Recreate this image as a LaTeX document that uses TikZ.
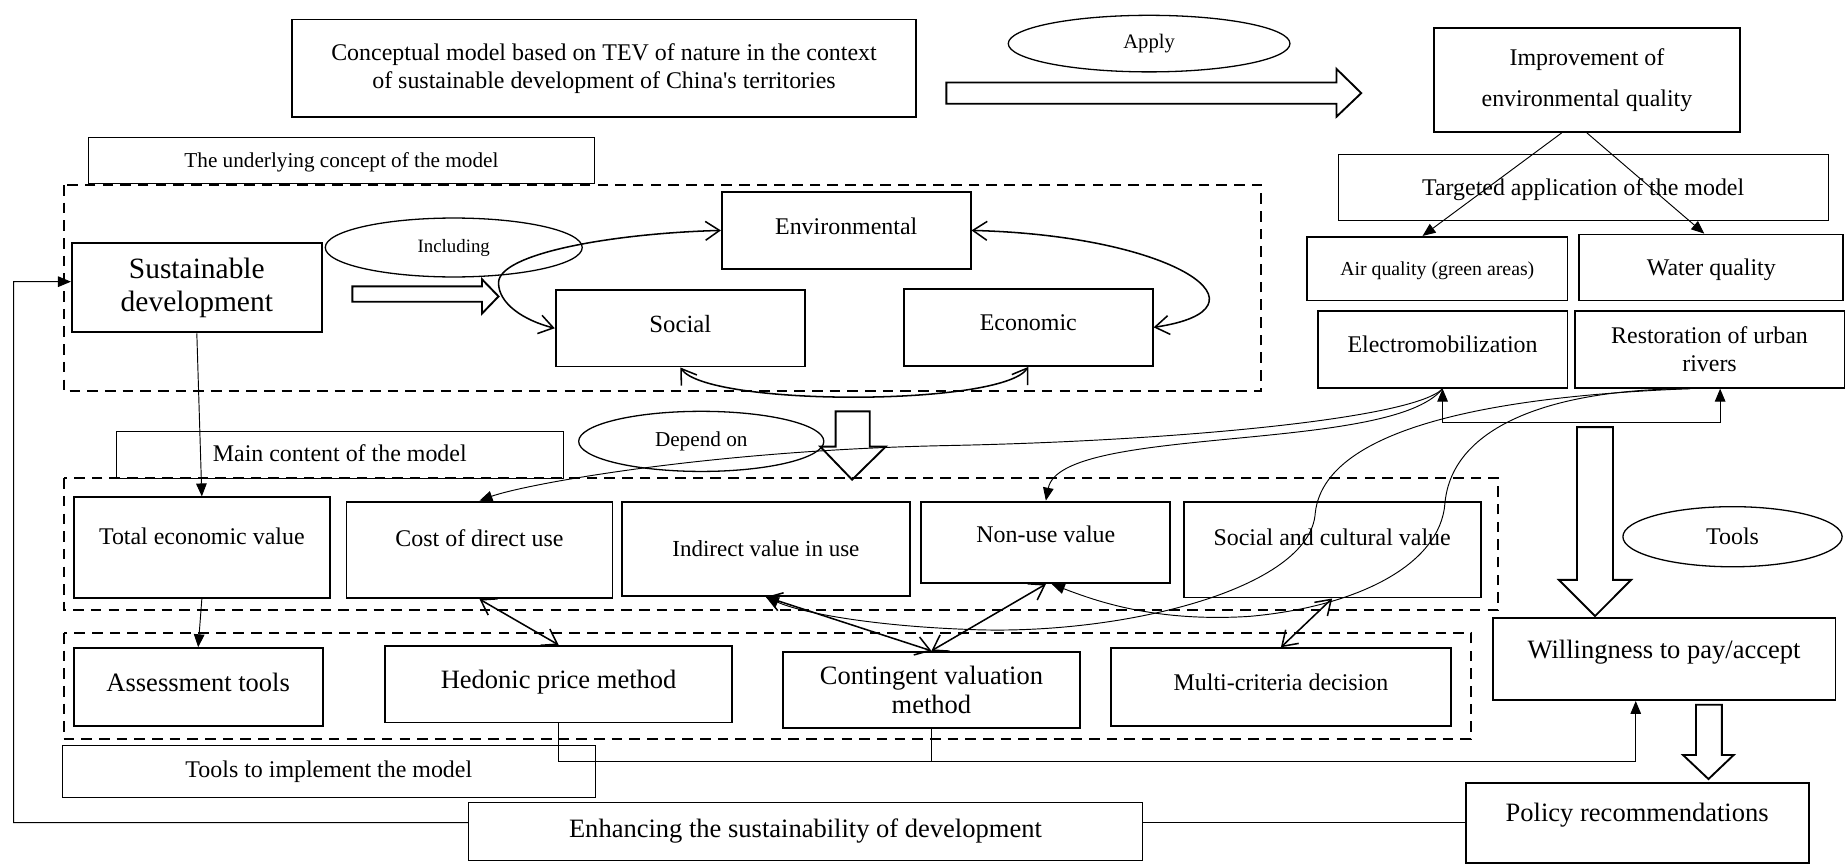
\documentclass[tikz,border=0pt]{standalone}
\usepackage{fontspec}
\setmainfont{Liberation Serif}
\usetikzlibrary{arrows.meta,shapes.geometric}
\newcommand\fntmain{\fontsize{20.3bp}{24bp}\selectfont}
\newcommand\fntbig{\fontsize{22.5bp}{25bp}\selectfont}
\newcommand\fntlbl{\fontsize{18bp}{21bp}\selectfont}
\newcommand\fntsm{\fontsize{16bp}{19bp}\selectfont}
\begin{document}
\begin{tikzpicture}[x=1bp,y=-1bp,
  box/.style={draw,line width=1.6bp,inner sep=0pt,font=\fntmain,text height=14.2bp,text depth=2bp},
  bigbox/.style={box,font=\fntbig,text height=15.8bp,text depth=2.3bp},
  lblbox/.style={box,line width=0.8bp},
  twoline/.style={align=center,text height=,text depth=},
  oval/.style={draw,ellipse,line width=1.1bp,inner sep=0pt},
  dashframe/.style={draw,line width=1.6bp,dash pattern=on 9bp off 6bp},
  hollow/.style={draw,line width=1.6bp,line join=miter},
  conn/.style={line width=0.8bp},
  fwd/.style={conn,-{Triangle[length=11bp,width=9bp]}},
  barb/.style={line width=1.3bp,{Straight Barb[length=12bp,width=16bp]}-{Straight Barb[length=12bp,width=16bp]}}]
\useasboundingbox (0,0) rectangle (1568,733);

% top row
\node[box,twoline,minimum width=529bp,minimum height=83bp] (title) at (512.5,58) {Conceptual model based on TEV of nature in the context\\of sustainable development of China\textquotesingle s territories};
\node[oval,font={\fontsize{17.5bp}{20bp}\selectfont},minimum width=239bp,minimum height=48bp] (apply) at (975,37) {Apply};
\node[box,twoline,font={\fontsize{20.3bp}{34bp}\selectfont},minimum width=259bp,minimum height=88bp] (imp) at (1346.5,68) {Improvement of\\environmental quality};
\draw[hollow] (803,70) -- (1134,70) -- (1134,58.5) -- (1155,79) -- (1134,99) -- (1134,88) -- (803,88) -- cycle;

% right column
\node[lblbox,minimum width=415.5bp,minimum height=56bp,text depth=1bp] (target) at (1343.25,159) {Targeted application of the model};
\node[box,font={\fontsize{16.8bp}{20bp}\selectfont},text height=11.8bp,text depth=0bp,minimum width=221bp,minimum height=54bp] (air) at (1219.5,228) {Air quality (green areas)};
\node[box,text depth=0bp,minimum width=224bp,minimum height=56bp] (water) at (1452,227) {Water quality};
\node[box,text depth=9bp,minimum width=212bp,minimum height=65bp] (elm) at (1224,296.5) {Electromobilization};
\node[box,twoline,minimum width=229bp,minimum height=65bp] (rst) at (1450.5,296.5) {Restoration of urban\\rivers};
\draw[fwd] ([xshift=-21.5bp]imp.south) -- ([xshift=-12.5bp]air.north);
\draw[fwd] (imp.south) -- ([xshift=-6bp]water.north);

% underlying concept
\node[lblbox,font=\fntlbl,text height=12.6bp,text depth=1.8bp,minimum width=430bp,minimum height=39bp] (under) at (289.7,136.5) {The underlying concept of the model};
\draw[dashframe] (54,157) rectangle (1070,332);
\node[box,twoline,font={\fontsize{25bp}{28bp}\selectfont},minimum width=212bp,minimum height=76bp] (sd) at (167,244) {Sustainable\\development};
\node[oval,font=\fntsm,minimum width=218bp,minimum height=50bp] (incl) at (385,210) {Including};
\draw[hollow] (299,243) -- (409,243) -- (409,237) -- (423,251.5) -- (409,266) -- (409,256) -- (299,256) -- cycle;
\node[box,font={\fontsize{21bp}{24bp}\selectfont},text height=14.7bp,text depth=7bp,minimum width=211.5bp,minimum height=65bp] (soc) at (577.25,278.5) {Social};
\node[box,text depth=7bp,minimum width=211bp,minimum height=65bp] (env) at (718,195.5) {Environmental};
\node[box,text depth=9.5bp,minimum width=211bp,minimum height=65.5bp] (eco) at (872.5,277.75) {Economic};
\draw[barb] (soc.west) .. controls (445,272) and (423,258) .. (423,240) .. controls (423,215) and (520,198) .. (env.west);
\draw[barb] (env.east) .. controls (1000,200) and (1085,262) .. (eco.east);
\draw[barb] (soc.south) .. controls (600,345) and (850,345) .. (eco.south);

% main content
\node[lblbox,minimum width=379.4bp,minimum height=39.7bp] (main) at (288.3,385.85) {Main content of the model};
\node[oval,font=\fntlbl,minimum width=208bp,minimum height=51bp] (dep) at (595,374.5) {Depend on};
\draw[hollow] (709,349) -- (738,349) -- (738,379) -- (751.5,379) -- (723,407) -- (696,379) -- (709,379) -- cycle;
\draw[dashframe] (54,405.7) rectangle (1271,517.6);
\node[box,text depth=19.5bp,minimum width=217.5bp,minimum height=85.5bp] (tev) at (171.25,464.75) {Total economic value};
\node[box,text depth=19.2bp,minimum width=225.7bp,minimum height=82bp] (cdu) at (406.85,466.6) {Cost of direct use};
\node[box,font={\fontsize{19.5bp}{23bp}\selectfont},text height=13.6bp,text depth=1bp,minimum width=244.3bp,minimum height=80.1bp] (ivu) at (649.85,465.65) {Indirect value in use};
\node[box,text depth=13.4bp,minimum width=211.2bp,minimum height=69.2bp] (nuv) at (887.4,460.2) {Non-use value};
\node[box,text depth=20.6bp,minimum width=252bp,minimum height=81.4bp] (scv) at (1130.3,466.3) {Social and cultural value};

% tools
\draw[dashframe] (54,537) rectangle (1248,627);
\node[bigbox,text depth=8.85bp,minimum width=211.3bp,minimum height=66bp] (at) at (168.15,583) {Assessment tools};
\node[bigbox,text depth=9.25bp,minimum width=294bp,minimum height=65bp] (hed) at (473.95,580.5) {Hedonic price method};
\node[bigbox,twoline,minimum width=252bp,minimum height=64.8bp] (cvm) at (790.3,585.4) {Contingent valuation\\method};
\node[box,text depth=8bp,minimum width=288.3bp,minimum height=66bp] (mcd) at (1086.85,583) {Multi-criteria decision};
\node[lblbox,text depth=3.5bp,minimum width=452bp,minimum height=44.1bp] (impl) at (279,654.75) {Tools to implement the model};
\node[lblbox,font=\fntbig,text height=15.8bp,text depth=5bp,minimum width=571.2bp,minimum height=48.7bp] (enh) at (683.4,705.35) {Enhancing the sustainability of development};

% outcome
\node[oval,font=\fntmain,minimum width=186bp,minimum height=51bp] (tools) at (1470,455.4) {Tools};
\node[bigbox,text depth=16.85bp,minimum width=291bp,minimum height=69.4bp] (wtp) at (1411.9,559.3) {Willingness to pay/accept};
\node[bigbox,text depth=18.3bp,minimum width=291bp,minimum height=68bp] (pol) at (1389.1,698) {Policy recommendations};
\draw[hollow] (1338,362.4) -- (1368.6,362.4) -- (1368.6,492) -- (1384,492) -- (1353.4,522.7) -- (1322.7,492) -- (1338,492) -- cycle;
\draw[hollow] (1439,598) -- (1461,598) -- (1461,640.6) -- (1471,640.6) -- (1449.6,661) -- (1428,640.6) -- (1439,640.6) -- cycle;

% connectors
\coordinate (fb) at (11.5,239);
\coordinate (brk) at (0,358.6);
\coordinate (jn) at (0,645.7);
\coordinate (rstin) at ([xshift=9bp]rst.south);
\coordinate (rsto) at ([xshift=-16.5bp]rst.south);
\coordinate (nuvin) at ([xshift=5bp]nuv.south);
\coordinate (wtpin) at ([xshift=-24bp]wtp.south);
\draw[fwd] (sd.south) -- (tev.north);
\draw[fwd] (tev.south) -- (at.north);
\draw[fwd] (enh.west |- pol.west) -| (fb) -- ([yshift=5bp]sd.west);
\draw[conn] (enh.east |- pol.west) -- (pol.west);
\draw[conn] (hed.south) |- (cvm.south |- jn);
\draw[fwd] (cvm.south) |- (wtpin |- jn) -- (wtpin);
\draw[conn,{Triangle[length=11bp,width=9bp]}-{Triangle[length=11bp,width=9bp]}] (elm.south) -- (elm.south |- brk) -| (rstin);
\draw[fwd] (elm.south) .. controls (1200,355) and (1000,374) .. (806,378) .. controls (600,382) and (445,411) .. (cdu.north);
\draw[fwd] (elm.south) .. controls (1180,385) and (900,360) .. (nuv.north);
\draw[fwd] (rsto) .. controls (1300,335) and (1125,355) .. (1116,435) .. controls (1112,500) and (950,540) .. (820,534) .. controls (740,531) and (680,520) .. (ivu.south);
\draw[fwd] (rsto) .. controls (1320,330) and (1232,360) .. (1226,427) .. controls (1222,480) and (1150,515) .. (1060,523) .. controls (980,528) and (930,510) .. (nuvin);
\draw[barb] (cdu.south) -- (hed.north);
\draw[barb] (ivu.south) -- (cvm.north);
\draw[barb] (nuv.south) -- (cvm.north);
\draw[barb] (scv.south) -- (mcd.north);
\end{tikzpicture}
\end{document}
